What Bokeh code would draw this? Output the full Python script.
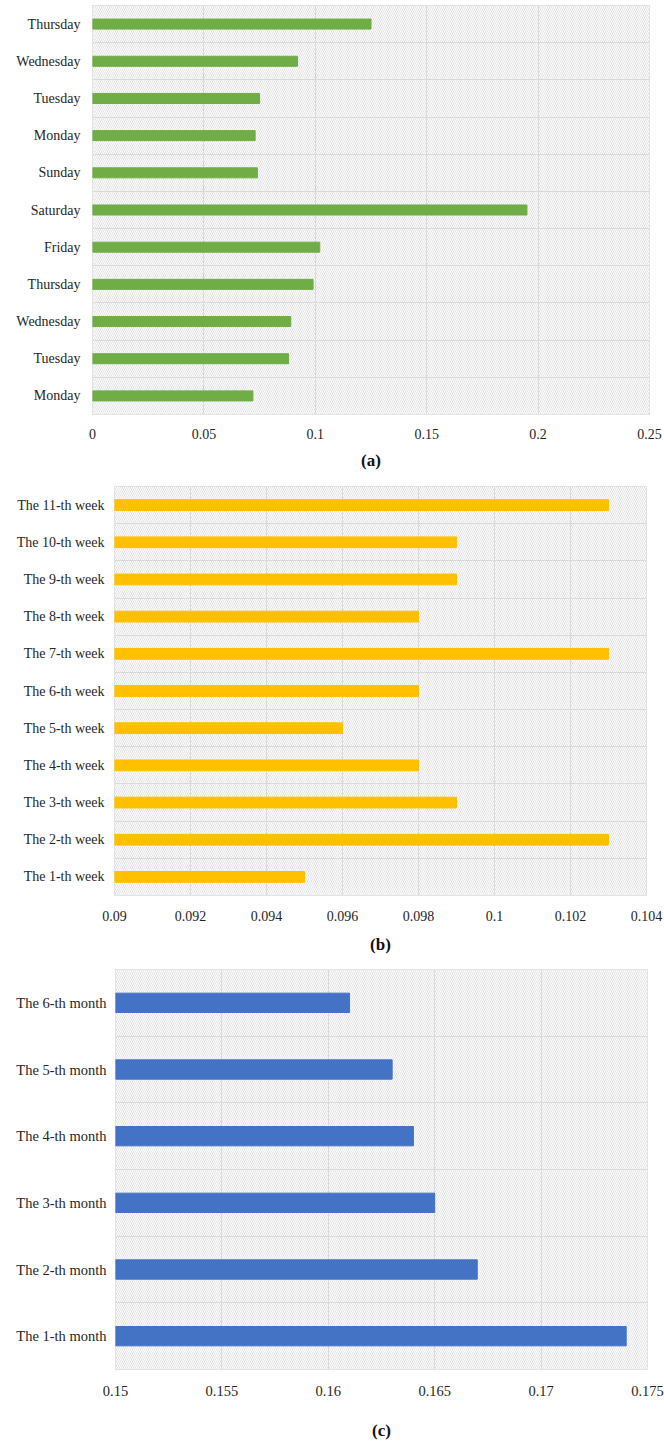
from bokeh.plotting import figure
from bokeh.models import FixedTicker, Range1d
from bokeh.embed import file_html
from bokeh.resources import INLINE

# ---- data (bottom category first) ----
day_labels = ["Monday", "Tuesday", "Wednesday", "Thursday", "Friday", "Saturday",
              "Sunday", "Monday", "Tuesday", "Wednesday", "Thursday"]
day_values = [0.072, 0.088, 0.089, 0.099, 0.102, 0.195, 0.074, 0.073, 0.075, 0.092, 0.125]
day_ticks = [0, 0.05, 0.1, 0.15, 0.2, 0.25]
day_tick_labels = ["0", "0.05", "0.1", "0.15", "0.2", "0.25"]

week_labels = ["The 1-th week", "The 2-th week", "The 3-th week", "The 4-th week",
               "The 5-th week", "The 6-th week", "The 7-th week", "The 8-th week",
               "The 9-th week", "The 10-th week", "The 11-th week"]
week_values = [0.095, 0.103, 0.099, 0.098, 0.096, 0.098, 0.103, 0.098, 0.099, 0.099, 0.103]
week_ticks = [0.09, 0.092, 0.094, 0.096, 0.098, 0.1, 0.102, 0.104]
week_tick_labels = ["0.09", "0.092", "0.094", "0.096", "0.098", "0.1", "0.102", "0.104"]

month_labels = ["The 1-th month", "The 2-th month", "The 3-th month",
                "The 4-th month", "The 5-th month", "The 6-th month"]
month_values = [0.174, 0.167, 0.165, 0.164, 0.163, 0.161]
month_ticks = [0.15, 0.155, 0.16, 0.165, 0.17, 0.175]
month_tick_labels = ["0.15", "0.155", "0.16", "0.165", "0.17", "0.175"]

FONT = "Liberation Serif"
TXT = "#262626"
GRID = "#dadada"


def panel(labels, values, ticks, tick_labels, color, caption, height,
          top, bottom, left, right, bar_h, fsize, tick_standoff, cap_standoff, y_standoff):
    n = len(labels)
    p = figure(width=664, height=height, output_backend="svg", toolbar_location=None,
               x_range=Range1d(ticks[0], ticks[-1]), y_range=Range1d(-0.5, n - 0.5),
               min_border_top=top, min_border_bottom=bottom,
               min_border_left=left, min_border_right=right)
    p.background_fill_color = "white"
    p.border_fill_color = "white"
    p.outline_line_color = GRID
    p.outline_line_width = 1

    # hatched plot-area background
    p.quad(left=ticks[0], right=ticks[-1], bottom=-0.5, top=n - 0.5,
           fill_color="white", line_color=None,
           hatch_pattern="\\", hatch_color="#e2e2e2", hatch_scale=4, hatch_weight=1,
           level="image")

    ys = list(range(n))
    p.hbar(y=ys, left=ticks[0], right=values, height=bar_h,
           fill_color=color, line_color=color)

    p.xgrid.ticker = FixedTicker(ticks=ticks)
    p.ygrid.ticker = FixedTicker(ticks=[i + 0.5 for i in range(n - 1)])
    for g in (p.xgrid, p.ygrid):
        g.grid_line_color = GRID
        g.grid_line_width = 1

    p.xaxis.ticker = FixedTicker(ticks=ticks)
    p.xaxis.major_label_overrides = {t: l for t, l in zip(ticks, tick_labels)}
    p.yaxis.ticker = FixedTicker(ticks=ys)
    p.yaxis.major_label_overrides = {i: l for i, l in zip(ys, labels)}

    for ax in (p.xaxis, p.yaxis):
        ax.axis_line_color = None
        ax.major_tick_line_color = None
        ax.minor_tick_line_color = None
        ax.major_label_text_font = FONT
        ax.major_label_text_font_size = fsize
        ax.major_label_text_color = TXT
    p.yaxis.major_label_standoff = y_standoff
    p.xaxis.major_label_standoff = tick_standoff

    p.xaxis.axis_label = caption
    p.xaxis.axis_label_text_font = FONT
    p.xaxis.axis_label_text_font_style = "bold"
    p.xaxis.axis_label_text_font_size = "17px"
    p.xaxis.axis_label_text_color = "#111111"
    p.xaxis.axis_label_standoff = cap_standoff
    return p


pa = panel(day_labels, day_values, day_ticks, day_tick_labels, "#70AD47", "(a)",
           478, 5, 64, 92, 15, 0.27, "14px", 8, 9, 6)
pb = panel(week_labels, week_values, week_ticks, week_tick_labels, "#FFC000", "(b)",
           482, 8, 65, 114, 18, 0.29, "14px", 9, 11, 4)
pc = panel(month_labels, month_values, month_ticks, month_tick_labels, "#4472C4", "(c)",
           482, 9, 68, 115, 17, 0.29, "14.5px", 10, 22, 3)

open("out.html", "w").write(file_html([pa, pb, pc], INLINE))
